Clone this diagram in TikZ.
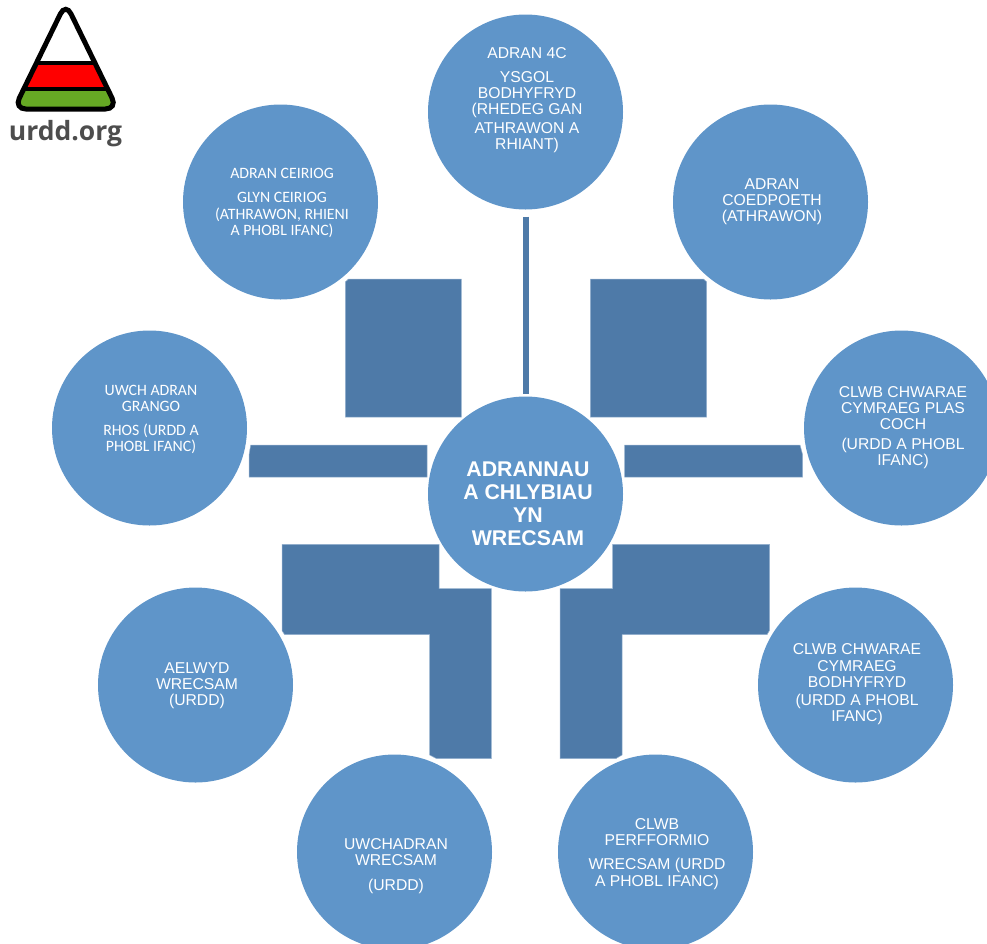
\documentclass[tikz,border=0pt]{standalone}
\usepackage{fontspec}
\setmainfont{Liberation Sans}
\newfontfamily\carlito{Carlito}
\newfontfamily\logofont{Open Sans}
\usetikzlibrary{shapes, arrows.meta, positioning, calc}
\definecolor{spotblue}{RGB}{95, 149, 201}
\definecolor{barblue}{RGB}{78, 122, 168}
\definecolor{baredge}{RGB}{150, 178, 208}
\definecolor{logored}{RGB}{255, 0, 0}
\definecolor{logogreen}{RGB}{102, 168, 36}
\definecolor{logogrey}{RGB}{77, 77, 77}
\tikzset{
  spot/.style={circle, fill=spotblue, minimum size=195pt, inner sep=0pt},
  spottext/.style={text=white, align=center, inner sep=0pt, xshift=1.5pt, font=\fontsize{15.7}{16.2}\selectfont},
  softtext/.style={spottext, font=\carlito\fontsize{15.8}{16.2}\selectfont},
  hubtext/.style={spottext, xshift=1pt, font=\bfseries\fontsize{21.3}{23}\selectfont},
  barshape/.style={fill=barblue, draw=baredge, line width=0.5pt},
  logoline/.style={draw=black, line width=5pt, rounded corners=12pt}
}

\begin{document}
\begin{tikzpicture}[x=1pt, y=-1pt]
  \useasboundingbox (0,0) rectangle (987,943);

  % Hub
  \node[spot, label={[hubtext, yshift=-10pt]center:{ADRANNAU\\A CHLYBIAU\\YN\\WRECSAM}}] (hub) at (525.5,494) {};

  % Top row
  \node[spot, label={[spottext, yshift=12pt]center:{ADRAN 4C\\[8pt]
    YSGOL\\BODHYFRYD\\(RHEDEG GAN\\[2pt]ATHRAWON A\\RHIANT)}}] (pedwarc) at (525.5,112) {};
  \node[spot, label={[softtext, yshift=-1pt]center:{ADRAN CEIRIOG\\[8pt]
    GLYN CEIRIOG\\(ATHRAWON, RHIENI\\A PHOBL IFANC)}}] (ceiriog) at (280.5,202) {};
  \node[spot, label={[spottext, yshift=0pt]center:{ADRAN\\COEDPOETH\\(ATHRAWON)}}] (coedpoeth) at (770.5,202) {};

  % Middle row
  \node[spot, label={[softtext, yshift=8.5pt]center:{UWCH ADRAN\\GRANGO\\[8pt]
    RHOS (URDD A\\PHOBL IFANC)}}] (grango) at (149.5,428) {};
  \node[spot, label={[spottext, yshift=0.5pt]center:{CLWB CHWARAE\\CYMRAEG PLAS\\COCH\\[3pt]
    (URDD A PHOBL\\IFANC)}}] (plascoch) at (901.5,428) {};

  % Lower row
  \node[spot, label={[spottext, yshift=-1pt]center:{AELWYD\\WRECSAM\\(URDD)}}] (aelwyd) at (195.5,685) {};
  \node[spot, label={[spottext, yshift=0.5pt]center:{CLWB CHWARAE\\CYMRAEG\\BODHYFRYD\\[2pt]
    (URDD A PHOBL\\IFANC)}}] (bodhyfryd) at (855.5,685) {};

  % Bottom row
  \node[spot, label={[spottext, yshift=-14pt]center:{UWCHADRAN\\WRECSAM\\[8pt](URDD)}}] (uwchadran) at (394.5,852) {};
  \node[spot, label={[spottext, yshift=-2pt]center:{CLWB\\PERFFORMIO\\[8pt]
    WRECSAM (URDD\\A PHOBL IFANC)}}] (perfformio) at (655.5,852) {};

  % Thin bar
  \draw[barblue, line width=6pt, shorten <=7pt, shorten >=2.5pt] (pedwarc) -- (hub);

  % Upper blocks
  \fill[barshape] (345.3,282) -- (348.5,279) -- (461.3,279) -- (461.3,417) -- (345.3,417) -- cycle;
  \fill[barshape] (590.3,279) -- (703.5,279) -- (706.7,282) -- (706.7,417) -- (590.3,417) -- cycle;

  % Side bars
  \fill[barshape] (249,455) -- (250.7,445) -- (427,445) -- (427,477) -- (249,477) -- cycle;
  \fill[barshape] (624.7,445) -- (800,445) -- (802.7,455) -- (802.7,477) -- (624.7,477) -- cycle;

  % Elbows
  \fill[barshape] (282,544.3) -- (439,544.3) -- (439,588.7) -- (491.3,588.7) -- (491.3,758.7) -- (436.7,758.7)
    -- (429.7,755) -- (429.7,634.7) -- (284.7,634.7) -- (282,630.7) -- cycle;
  \fill[barshape] (612.7,544.3) -- (769.7,544.3) -- (769.7,630) -- (767,634.7) -- (622,634.7) -- (622,755)
    -- (615.7,758.7) -- (560,758.7) -- (560,588.7) -- (612.7,588.7) -- cycle;

  % Logo
  \begin{scope}
    \clip[rounded corners=12pt] (65.7,3) -- (117.4,109) -- (14,109) -- cycle;
    \fill[logored] (0,62) rectangle (130,89);
    \fill[logogreen] (0,89) rectangle (130,112);
    \draw[black, line width=4pt] (0,62.5) -- (130,62.5);
    \draw[black, line width=4pt] (0,89) -- (130,89);
  \end{scope}
  \draw[logoline] (65.7,3) -- (117.4,109) -- (14,109) -- cycle;
  \node[text=logogrey, inner sep=0pt, font=\logofont\bfseries\fontsize{26.5}{27}\selectfont] (logotext) at (65.5,134) {urdd.org};
\end{tikzpicture}
\end{document}
